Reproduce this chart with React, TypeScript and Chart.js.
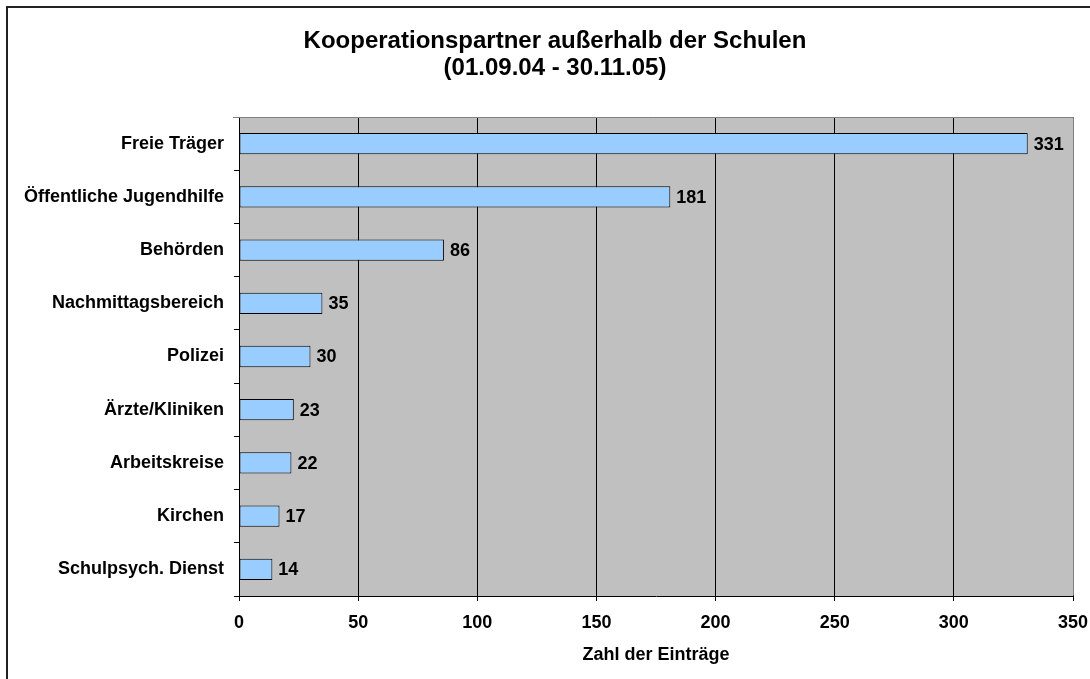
import React, { useEffect, useRef } from "react";
import { Chart, registerables } from "chart.js";

Chart.register(...registerables);

const categories = [
  "Freie Träger",
  "Öffentliche Jugendhilfe",
  "Behörden",
  "Nachmittagsbereich",
  "Polizei",
  "Ärzte/Kliniken",
  "Arbeitskreise",
  "Kirchen",
  "Schulpsych. Dienst",
];
const values = [331, 181, 86, 35, 30, 23, 22, 17, 14];
const titleLines = ["Kooperationspartner außerhalb der Schulen", "(01.09.04 - 30.11.05)"];
const xAxisTitle = "Zahl der Einträge";
const xMin = 0;
const xMax = 350;
const xStep = 50;

const FONT = "'Liberation Sans', Arial, sans-serif";

const decorPlugin = {
  id: "decor",
  beforeDraw(chart: any) {
    const { ctx, chartArea } = chart;
    ctx.save();
    ctx.fillStyle = "#ffffff";
    ctx.fillRect(0, 0, chart.width, chart.height);
    ctx.strokeStyle = "#222222";
    ctx.lineWidth = 2;
    ctx.beginPath();
    ctx.moveTo(7, chart.height + 5);
    ctx.lineTo(7, 7);
    ctx.lineTo(chart.width + 5, 7);
    ctx.stroke();
    ctx.fillStyle = "#C0C0C0";
    ctx.fillRect(chartArea.left, chartArea.top, chartArea.right - chartArea.left, chartArea.bottom - chartArea.top);
    // title
    ctx.fillStyle = "#000000";
    ctx.font = `bold 24px ${FONT}`;
    ctx.textAlign = "center";
    ctx.textBaseline = "middle";
    ctx.fillText(titleLines[0], 555, 41);
    ctx.fillText(titleLines[1], 555, 68);
    ctx.restore();
  },
  afterDraw(chart: any) {
    const { ctx, chartArea } = chart;
    ctx.save();
    ctx.strokeStyle = "#808080";
    ctx.lineWidth = 1;
    ctx.beginPath();
    ctx.moveTo(chartArea.left - 6, Math.round(chartArea.top) + 0.5);
    ctx.lineTo(Math.round(chartArea.right) + 0.5, Math.round(chartArea.top) + 0.5);
    ctx.lineTo(Math.round(chartArea.right) + 0.5, Math.round(chartArea.bottom) - 0.5);
    ctx.stroke();
    ctx.restore();
  },
  afterDatasetsDraw(chart: any) {
    const { ctx } = chart;
    const meta = chart.getDatasetMeta(0);
    ctx.save();
    ctx.font = `bold 18px ${FONT}`;
    ctx.fillStyle = "#000000";
    ctx.textAlign = "left";
    ctx.textBaseline = "middle";
    meta.data.forEach((bar: any, i: number) => {
      ctx.fillText(String(values[i]), bar.x + 6, bar.y + 1);
    });
    ctx.restore();
  },
};

export default function App() {
  const ref = useRef<HTMLCanvasElement>(null);
  useEffect(() => {
    if (!ref.current) return;
    const chart = new Chart(ref.current, {
      type: "bar",
      data: {
        labels: categories,
        datasets: [
          {
            data: values,
            backgroundColor: "#99CCFF",
            borderColor: "#000000",
            borderWidth: 1,
            borderSkipped: false,
            barPercentage: 0.4,
            categoryPercentage: 1,
          },
        ],
      },
      options: {
        indexAxis: "y",
        animation: false,
        responsive: false,
        maintainAspectRatio: false,
        layout: { padding: { left: 0, right: 17, top: 117, bottom: 0 } },
        plugins: {
          legend: { display: false },
          tooltip: { enabled: false },
          title: { display: false },
        },
        scales: {
          x: {
            type: "linear",
            min: xMin,
            max: xMax,
            ticks: {
              stepSize: xStep,
              color: "#000000",
              font: { family: FONT, size: 18, weight: "bold" },
              padding: 11,
              maxRotation: 0,
            },
            grid: {
              color: "#000000",
              lineWidth: 1,
              drawOnChartArea: true,
              drawTicks: true,
              tickLength: 5,
            },
            border: { display: true, color: "#000000", width: 1 },
            title: {
              display: true,
              text: xAxisTitle,
              color: "#000000",
              font: { family: FONT, size: 18, weight: "bold" },
              padding: { top: 0, bottom: 13 },
            },
            afterFit(scale: any) {
              scale.height = 83;
              scale.paddingLeft = 0;
              scale.paddingRight = 0;
            },
          },
          y: {
            type: "category",
            ticks: {
              color: "#000000",
              font: { family: FONT, size: 18, weight: "bold" },
              padding: 10,
            },
            grid: {
              offset: true,
              color: "#000000",
              drawOnChartArea: false,
              drawTicks: true,
              tickLength: 5,
            },
            border: { display: true, color: "#000000", width: 1 },
            afterFit(scale: any) {
              scale.width = 239;
              scale.paddingTop = 0;
              scale.paddingBottom = 0;
            },
          },
        },
      },
      plugins: [decorPlugin],
    } as any);
    return () => chart.destroy();
  }, []);
  return (
    <div style={{ position: "fixed", left: 0, top: 0, width: 1090, height: 679, background: "#fff" }}>
      <canvas ref={ref} width={1090} height={679} style={{ display: "block", width: 1090, height: 679 }} />
    </div>
  );
}
